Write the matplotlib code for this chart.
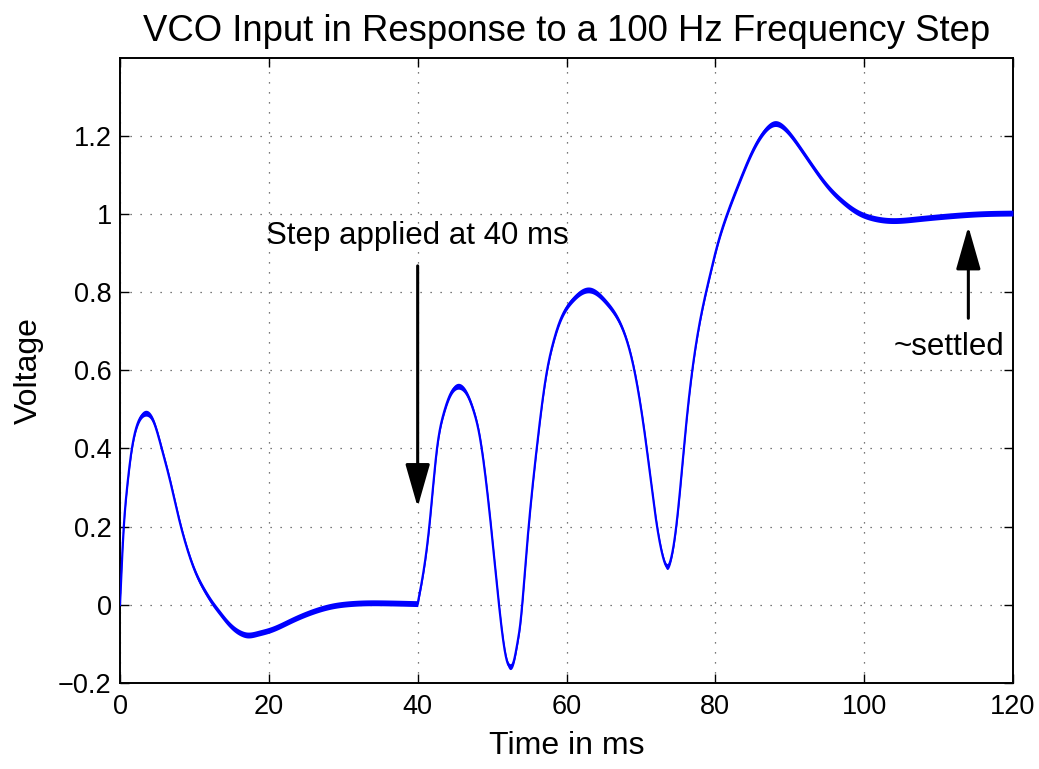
import matplotlib
matplotlib.use("Agg")
import matplotlib.pyplot as plt
import numpy as np

# ---- data ----
time_ms = [0.0, 0.5, 0.9, 1.6, 2.3, 3.4, 4.5, 5.6, 6.75, 7.9, 9.0, 10.1, 11.5,
           12.4, 13.3, 14.3, 15.5, 16.3, 17.0, 18.5, 20.2, 23.0, 25.9, 28.5, 30.9,
           33.0, 35.4, 38.0, 40.0,
           41.56, 42.6, 43.5, 44.5, 45.55, 46.5, 47.5, 48.3, 49.0, 49.86, 50.93, 51.6,
           52.1, 52.5, 52.9, 53.4, 53.75, 54.65, 55.98, 57.3, 58.2, 59.1, 60.0, 60.9,
           62.0, 63.2, 65.4, 67.2, 69.0, 70.8, 72.1, 73.0, 73.5, 74.0, 74.8, 76.1, 77.5,
           79.3, 80.2, 81.5, 83.3, 85.1, 86.4, 88.0, 89.6, 91.4, 93.2, 95.0, 97.2, 99.2,
           101.0, 103.5, 107.0, 111.5, 116.0, 120.0]
voltage = [0.0, 0.197, 0.29, 0.40, 0.46, 0.49, 0.469, 0.40, 0.316, 0.222, 0.145, 0.085, 0.032,
           0.005, -0.018, -0.042, -0.064, -0.073, -0.077, -0.073, -0.064, -0.040, -0.017, -0.003, 0.003,
           0.005, 0.005, 0.004, 0.003,
           0.2, 0.4, 0.49, 0.543, 0.559, 0.543, 0.497, 0.435, 0.345, 0.2, 0.0, -0.105,
           -0.150, -0.158, -0.145, -0.098, -0.055, 0.141, 0.397, 0.59, 0.67, 0.725, 0.76, 0.782,
           0.80, 0.805, 0.772, 0.72, 0.61, 0.397, 0.209, 0.120, 0.098, 0.115, 0.209, 0.465, 0.678,
           0.845, 0.915, 0.995, 1.085, 1.165, 1.207, 1.231, 1.213, 1.168, 1.118, 1.072, 1.030, 1.003,
           0.990, 0.983, 0.987, 0.995, 1.0005, 1.002]
step_time = 40.0  # the curve has a corner where the step is applied

title = "VCO Input in Response to a 100 Hz Frequency Step"
xlabel = "Time in ms"
ylabel = "Voltage"
xticks = [0, 20, 40, 60, 80, 100, 120]
yticks = [-0.2, 0, 0.2, 0.4, 0.6, 0.8, 1.0, 1.2]
ytick_labels = ["\u22120.2", "0", "0.2", "0.4", "0.6", "0.8", "1", "1.2"]

step_text = "Step applied at 40 ms"
step_arrow_x = 40.0
settled_text = "~settled"
settled_arrow_x = 114.0


def natural_spline(x, y, xn):
    """Natural cubic spline through the read points (display smoothing only)."""
    x = np.asarray(x, float)
    y = np.asarray(y, float)
    n = len(x)
    h = np.diff(x)
    A = np.zeros((n, n))
    r = np.zeros(n)
    A[0, 0] = 1.0
    A[-1, -1] = 1.0
    for i in range(1, n - 1):
        A[i, i - 1] = h[i - 1]
        A[i, i] = 2 * (h[i - 1] + h[i])
        A[i, i + 1] = h[i]
        r[i] = 3 * ((y[i + 1] - y[i]) / h[i] - (y[i] - y[i - 1]) / h[i - 1])
    c = np.linalg.solve(A, r)
    b = (y[1:] - y[:-1]) / h - h * (2 * c[:-1] + c[1:]) / 3
    d = (c[1:] - c[:-1]) / (3 * h)
    idx = np.clip(np.searchsorted(x, xn) - 1, 0, n - 2)
    dx = xn - x[idx]
    return y[idx] + b[idx] * dx + c[idx] * dx**2 + d[idx] * dx**3


# ---- plotting ----
plt.rcParams['font.family'] = ['Liberation Sans', 'DejaVu Sans']

fig = plt.figure(figsize=(10.39, 7.69), dpi=100)
ax = fig.add_axes([120/1039, 1 - 683/769, (1013-120)/1039, (683-57.5)/769])

t_arr = np.array(time_ms)
v_arr = np.array(voltage)
pre = t_arr <= step_time
post = t_arr >= step_time
tt1 = np.linspace(0, step_time, 3000)
tt2 = np.linspace(step_time, 120, 6000)
tt = np.concatenate([tt1, tt2[1:]])
vv = np.concatenate([natural_spline(t_arr[pre], v_arr[pre], tt1),
                     natural_spline(t_arr[post], v_arr[post], tt2)[1:]])

band = 0.0075
ax.fill_between(tt, vv - band, vv + band, color='#0000ff', linewidth=0, zorder=3)
ax.plot(tt, vv, color='#0000ff', linewidth=1.6, zorder=4)

ax.set_xlim(0, 120)
ax.set_ylim(-0.2, 1.4)
ax.set_xticks(xticks)
ax.set_xticklabels([str(x) for x in xticks])
ax.set_yticks(yticks)
ax.set_yticklabels(ytick_labels)

ax.tick_params(direction='in', length=6.5, width=1, top=True, right=True,
               labelsize=19.5, pad=6, colors='black')
ax.tick_params(axis='x', pad=8)
for s in ax.spines.values():
    s.set_linewidth(1.4)

ax.grid(True, color='0.3', linestyle=(0, (1, 7)), linewidth=0.9)
ax.set_axisbelow(True)

ax.set_title(title, fontsize=26.3, pad=12)
ax.set_xlabel(xlabel, fontsize=23, labelpad=8)
ax.set_ylabel(ylabel, fontsize=23, labelpad=10)

# annotations
ax.text(step_arrow_x, 0.944, step_text, ha='center', va='center', fontsize=22.5)
ax.annotate('', xy=(step_arrow_x, 0.25), xytext=(step_arrow_x, 0.867),
            arrowprops=dict(arrowstyle='-|>,head_length=1.33,head_width=0.38',
                            mutation_scale=20, color='black', lw=2.2,
                            shrinkA=0, shrinkB=0))
ax.text(111.4, 0.66, settled_text, ha='center', va='center', fontsize=22.5)
ax.annotate('', xy=(settled_arrow_x, 0.968), xytext=(settled_arrow_x, 0.733),
            arrowprops=dict(arrowstyle='-|>,head_length=1.33,head_width=0.38',
                            mutation_scale=20, color='black', lw=2.2,
                            shrinkA=0, shrinkB=0))

fig.savefig('out.png', dpi=100, facecolor='white')
